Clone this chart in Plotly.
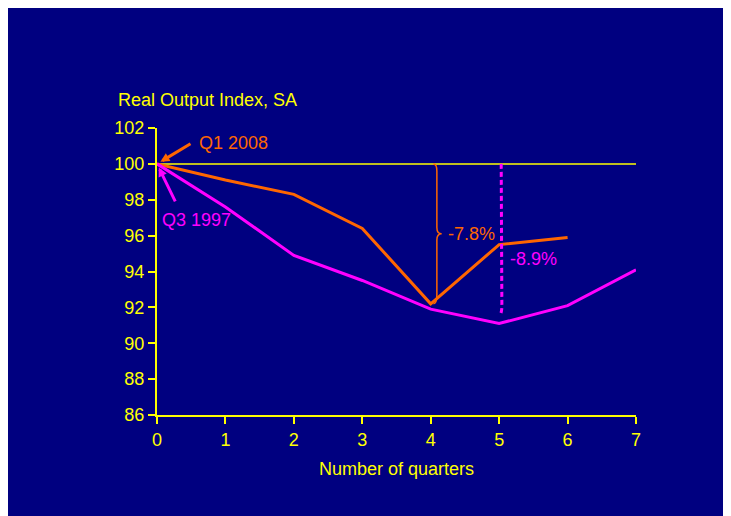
import plotly.graph_objects as go

quarters = [0, 1, 2, 3, 4, 5, 6, 7]
q1_2008 = [100, 99.1, 98.3, 96.4, 92.2, 95.5, 95.9]
q3_1997 = [100, 97.6, 94.9, 93.5, 91.9, 91.1, 92.1, 94.1]
y_ticks = [86, 88, 90, 92, 94, 96, 98, 100, 102]
x_ticks = [0, 1, 2, 3, 4, 5, 6, 7]

NAVY = "#000080"
YEL = "#FFFF00"
ORG = "#FF6600"
MAG = "#FF00FF"
FONT = "Liberation Sans, Arial, sans-serif"
FS = 18

fig = go.Figure()
fig.add_trace(go.Scatter(x=quarters[:len(q1_2008)], y=q1_2008, mode="lines",
                         line=dict(color=ORG, width=3), showlegend=False))
fig.add_trace(go.Scatter(x=quarters, y=q3_1997, mode="lines",
                         line=dict(color=MAG, width=3), showlegend=False))

# reference line at 100
fig.add_shape(type="line", x0=0, x1=7, y0=100, y1=100, xref="x", yref="y",
              line=dict(color=YEL, width=1.5), layer="below")

# orange brace for peak-to-trough
o_min = min(q1_2008)
o_x = q1_2008.index(o_min) + 0.09
mid = (100 + o_min) / 2
fig.add_shape(type="path", xref="x", yref="y",
              path=(f"M {o_x-0.05},100 Q {o_x},100 {o_x},99.6 L {o_x},{mid+0.35} "
                    f"Q {o_x},{mid} {o_x+0.07},{mid} Q {o_x},{mid} {o_x},{mid-0.35} "
                    f"L {o_x},{o_min+0.5} Q {o_x},{o_min} {o_x-0.05},{o_min}"),
              line=dict(color=ORG, width=1.5))

# magenta dashed drop line
m_min = min(q3_1997)
m_x = q3_1997.index(m_min) + 0.04
fig.add_shape(type="path", xref="x", yref="y",
              path=f"M {m_x-0.01},100 L {m_x},{m_min+1.0} Q {m_x},{m_min+0.6} {m_x-0.03},{m_min+0.45}",
              line=dict(color=MAG, width=3, dash="5px,3px"))

fig.add_annotation(x=o_x + 0.14, y=mid, text=f"{(o_min-100):.1f}%", showarrow=False,
                   xanchor="left", font=dict(color=ORG, size=FS, family=FONT))
fig.add_annotation(x=m_x + 0.09, y=(100 + m_min) / 2 - 0.85, text=f"{(m_min-100):.1f}%", showarrow=False,
                   xanchor="left", font=dict(color=MAG, size=FS, family=FONT))

# series labels with arrows
fig.add_annotation(x=0, y=100, ax=35, ay=-21, text="", showarrow=True, arrowhead=2,
                   arrowsize=0.6, arrowwidth=3, arrowcolor=ORG, standoff=4)
fig.add_annotation(x=0.58, y=101.17, text="Q1 2008", showarrow=False, xanchor="left",
                   font=dict(color=ORG, size=FS, family=FONT))
fig.add_annotation(x=0, y=100, ax=19, ay=39, text="", showarrow=True, arrowhead=2,
                   arrowsize=0.6, arrowwidth=3, arrowcolor=MAG, standoff=4)
fig.add_annotation(x=0.04, y=96.85, text="Q3 1997", showarrow=False, xanchor="left",
                   font=dict(color=MAG, size=FS, family=FONT))

# axis title for y (above plot)
fig.add_annotation(xref="paper", yref="paper", x=-0.085, y=1.0976, text="Real Output Index, SA",
                   showarrow=False, xanchor="left", yanchor="middle",
                   font=dict(color=YEL, size=FS, family=FONT))

fig.update_layout(
    width=731, height=516,
    margin=dict(l=149, r=103, t=120, b=109),
    paper_bgcolor=NAVY, plot_bgcolor=NAVY,
    font=dict(family=FONT, color=YEL, size=FS),
    xaxis=dict(range=[0, 7], tickvals=x_ticks, showgrid=False, zeroline=False,
               showline=True, linecolor=YEL, linewidth=2, ticks="outside",
               tickcolor=YEL, tickwidth=2, ticklen=7,
               tickfont=dict(color=YEL, size=FS, family=FONT),
               title=dict(text="Number of quarters", font=dict(color=YEL, size=FS, family=FONT),
                          standoff=14)),
    yaxis=dict(range=[86, 102], tickvals=y_ticks, showgrid=False, zeroline=False,
               showline=True, linecolor=YEL, linewidth=2, ticks="outside",
               tickcolor=YEL, tickwidth=2, ticklen=7,
               tickfont=dict(color=YEL, size=FS, family=FONT)),
)

fig.write_html("out.html")
